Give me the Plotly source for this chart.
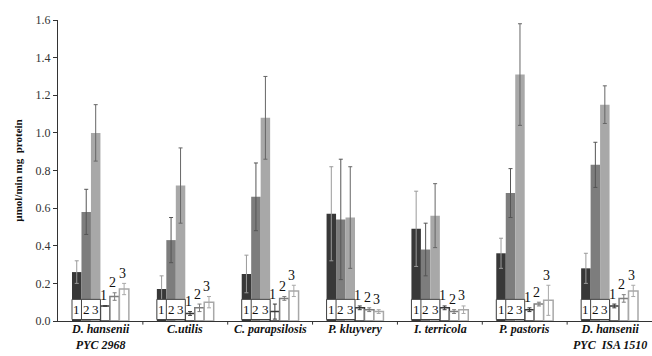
import plotly.graph_objects as go

categories = ["<i>D. hansenii</i><br><i>PYC 2968</i>", "<i>C.utilis</i>", "<i>C. parapsilosis</i>",
              "<i>P. kluyvery</i>", "<i>I. terricola</i>", "<i>P. pastoris</i>",
              "<i>D. hansenii</i><br><i>PYC  ISA 1510</i>"]

big1 = [0.26, 0.17, 0.25, 0.57, 0.49, 0.36, 0.28]
big1_err = [0.06, 0.07, 0.10, 0.25, 0.20, 0.08, 0.08]
big2 = [0.58, 0.43, 0.66, 0.54, 0.38, 0.68, 0.83]
big2_err = [0.12, 0.12, 0.18, 0.32, 0.14, 0.13, 0.12]
big3 = [1.00, 0.72, 1.08, 0.55, 0.56, 1.31, 1.15]
big3_err = [0.15, 0.20, 0.22, 0.27, 0.17, 0.27, 0.10]

small1 = [0.08, 0.04, 0.05, 0.07, 0.07, 0.06, 0.08]
small1_err = [0.00, 0.01, 0.04, 0.01, 0.01, 0.01, 0.01]
small2 = [0.13, 0.07, 0.12, 0.06, 0.05, 0.09, 0.12]
small2_err = [0.02, 0.02, 0.01, 0.01, 0.01, 0.01, 0.02]
small3 = [0.17, 0.10, 0.16, 0.05, 0.06, 0.11, 0.16]
small3_err = [0.03, 0.03, 0.03, 0.01, 0.02, 0.08, 0.03]

labels = ["1", "2", "3"]
yticks = [0, 0.2, 0.4, 0.6, 0.8, 1.0, 1.2, 1.4, 1.6]

FONT = "Liberation Serif"
dark, mid, light = "#383838", "#7d7d7d", "#a8a8a8"

fig = go.Figure()
big = [(big1, big1_err, dark, "#9a9a9a"), (big2, big2_err, mid, "#555555"), (big3, big3_err, light, "#666666")]
for vals, errs, col, ecol in big:
    fig.add_trace(go.Bar(x=list(range(len(categories))), y=vals, marker=dict(color=col, line=dict(width=0)),
                         error_y=dict(type="data", array=errs, color=ecol, thickness=1, width=2),
                         showlegend=False))
small = [(small1, small1_err, dark), (small2, small2_err, mid), (small3, small3_err, light)]
for vals, errs, col in small:
    fig.add_trace(go.Bar(x=list(range(len(categories))), y=vals,
                         marker=dict(color="white", line=dict(color=col, width=1.5)),
                         error_y=dict(type="data", array=errs, color=col, thickness=1, width=2),
                         showlegend=False))

bargap = 0.33
n = 6
bw = (1 - bargap) / n

def center(g, i):
    return g - (1 - bargap) / 2 + (i + 0.5) * bw

shapes = []
annotations = []
for g in range(len(categories)):
    x0 = center(g, 0) - bw / 2
    x1 = center(g, 2) + bw / 2
    shapes.append(dict(type="rect", xref="x", yref="y", x0=x0, x1=x1, y0=0.008, y1=0.115,
                       fillcolor="white", line=dict(color="#444", width=1), layer="above"))
    shapes.append(dict(type="line", xref="x", yref="y", x0=x0 + bw, x1=x0 + bw, y0=0.008, y1=0.115,
                       line=dict(color="#444", width=1), layer="above"))
    for i in range(3):
        annotations.append(dict(x=center(g, i), y=0.06, xref="x", yref="y", text=labels[i],
                                showarrow=False, font=dict(family=FONT, size=13, color="#111")))
    for i, (vals, errs, col) in enumerate(small):
        annotations.append(dict(x=center(g, 3 + i), y=vals[g] + errs[g] + 0.003, xref="x", yref="y",
                                text=labels[i], showarrow=False, yanchor="bottom", xshift=-2,
                                font=dict(family=FONT, size=14, color="#111")))
    # category labels below the axis
    annotations.append(dict(x=g, y=0, xref="x", yref="paper", text="<b>" + categories[g] + "</b>",
                            showarrow=False, yanchor="top", yshift=1,
                            font=dict(family=FONT, size=12, color="#111")))

fig.update_layout(
    barmode="group", bargap=bargap, bargroupgap=0,
    width=652, height=356, margin=dict(l=58, r=0, t=20, b=35),
    plot_bgcolor="white", paper_bgcolor="white",
    font=dict(family=FONT, size=11, color="#222"),
    shapes=shapes, annotations=annotations,
)
fig.update_xaxes(showticklabels=False,
                 range=[-0.5, len(categories) - 0.5], showline=True, linecolor="#333", linewidth=1,
                 ticks="", showgrid=False, zeroline=False)
# boundary ticks
for b in range(1, len(categories)):
    fig.add_shape(type="line", xref="x", yref="paper", x0=b - 0.5, x1=b - 0.5, y0=0, y1=-0.012,
                  line=dict(color="#333", width=1))
fig.update_yaxes(range=[0, 1.6], tickvals=yticks,
                 tickformat=".1f", showline=True, linecolor="#333", linewidth=1, ticks="outside",
                 ticklen=4, tickcolor="#333", showgrid=False, zeroline=False,
                 tickfont=dict(family=FONT, size=12, color="#333"),
                 title=dict(text="µmol/min mg  protein", font=dict(family=FONT, size=11, color="#111", weight="bold"),
                            standoff=10))

fig.write_html("out.html", config={"displayModeBar": False},
               post_script="document.body.style.margin='0';document.body.style.overflow='hidden';")
